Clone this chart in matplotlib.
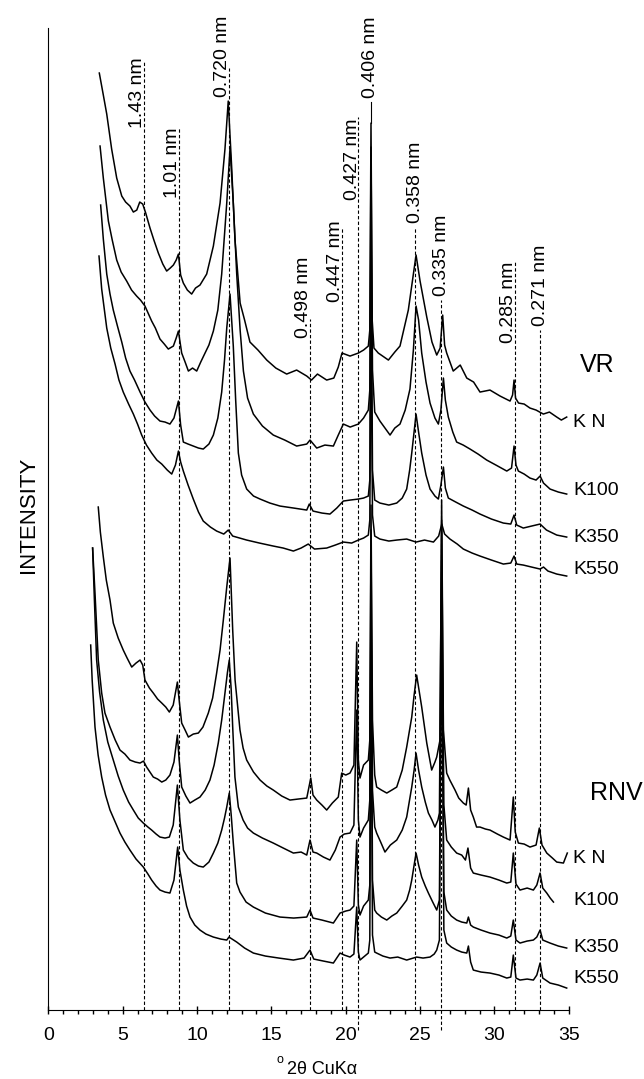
import numpy as np
from matplotlib import pyplot as plt

plt.rcParams['font.family'] = ['Liberation Sans', 'DejaVu Sans']

# XRD traces: (2theta, intensity in arbitrary units)
vr_kn = [(3.43, 937), (3.7, 915), (3.93, 896), (4.26, 861), (4.6, 832), (4.94, 814), (5.2, 808),
         (5.49, 804), (5.72, 798), (5.95, 800), (6.15, 808), (6.35, 806), (6.55, 797), (6.84, 782),
         (7.1, 770), (7.4, 757), (7.7, 746), (7.96, 739), (8.2, 742), (8.41, 745), (8.6, 750),
         (8.75, 756), (8.9, 735), (9.08, 727), (9.35, 720), (9.64, 716), (9.9, 722), (10.2, 725),
         (10.65, 736), (11.1, 764), (11.55, 807), (11.88, 861), (12.1, 909), (12.33, 843),
         (12.55, 771), (12.9, 707), (13.2, 690), (13.56, 668), (14.1, 660), (14.69, 650),
         (15.3, 642), (16.03, 636), (16.7, 640), (17.38, 634), (17.7, 630), (18.1, 636),
         (18.72, 630), (19.2, 632), (19.5, 643), (19.75, 657), (20.29, 654), (20.85, 657),
         (21.2, 660), (21.52, 664), (21.62, 680), (21.7, 887), (21.78, 690), (21.9, 662),
         (22.19, 657), (22.87, 650), (23.3, 658), (23.65, 664), (24.21, 700), (24.55, 736),
         (24.73, 755), (25.0, 729), (25.45, 693), (25.8, 668), (26.12, 655), (26.35, 662),
         (26.52, 695), (26.65, 665), (26.79, 657), (27.23, 639), (27.7, 645), (28.14, 632),
         (28.6, 628), (29.03, 618), (29.7, 620), (30.38, 614), (31.05, 609), (31.22, 615),
         (31.32, 630), (31.42, 612), (31.62, 607), (32.0, 606), (32.39, 602), (32.8, 600),
         (33.29, 596), (33.7, 598), (34.19, 593), (34.5, 590), (34.86, 593)]

vr_k100 = [(3.48, 864), (3.7, 832), (4.04, 789), (4.3, 770), (4.6, 750), (4.9, 738), (5.27, 729),
           (5.6, 720), (5.94, 714), (6.2, 710), (6.5, 704), (6.95, 689), (7.2, 682), (7.51, 671),
           (7.8, 666), (8.07, 661), (8.41, 664), (8.6, 672), (8.75, 679), (8.97, 657), (9.2, 648),
           (9.42, 639), (9.7, 642), (9.98, 639), (10.25, 648), (10.54, 657), (10.8, 665),
           (11.1, 679), (11.4, 700), (11.66, 736), (12.0, 807), (12.22, 862), (12.44, 807),
           (12.67, 736), (12.9, 680), (13.12, 639), (13.4, 612), (13.79, 596), (14.4, 584),
           (15.13, 575), (15.9, 570), (16.7, 564), (17.38, 566), (17.6, 570), (18.05, 562),
           (18.6, 565), (19.17, 564), (19.5, 575), (19.84, 586), (20.3, 583), (20.85, 586),
           (21.2, 592), (21.52, 600), (21.62, 620), (21.7, 863), (21.8, 640), (21.95, 598),
           (22.3, 589), (22.98, 575), (23.3, 582), (23.65, 586), (24.0, 600), (24.32, 621),
           (24.55, 660), (24.73, 704), (24.9, 690), (25.11, 657), (25.4, 628), (25.67, 607),
           (26.0, 592), (26.23, 586), (26.4, 600), (26.57, 632), (26.7, 610), (26.9, 593),
           (27.2, 578), (27.46, 568), (27.9, 565), (28.36, 561), (28.9, 556), (29.48, 550),
           (30.1, 545), (30.83, 539), (31.15, 542), (31.32, 564), (31.45, 545), (31.61, 539),
           (32.0, 536), (32.39, 532), (32.8, 530), (33.07, 534), (33.3, 527), (33.74, 521),
           (34.3, 518), (34.86, 516)]

vr_k350 = [(3.52, 805), (3.7, 771), (3.93, 736), (4.15, 716), (4.37, 700), (4.65, 684), (4.94, 668),
           (5.2, 652), (5.49, 639), (5.8, 630), (6.17, 618), (6.5, 608), (6.84, 600), (7.15, 594),
           (7.51, 589), (7.85, 588), (8.18, 586), (8.45, 592), (8.75, 609), (8.9, 585), (9.08, 568),
           (9.4, 566), (9.75, 564), (10.1, 562), (10.42, 561), (10.8, 566), (11.1, 575),
           (11.4, 592), (11.66, 618), (11.85, 650), (12.0, 682), (12.22, 716), (12.44, 664),
           (12.6, 610), (12.78, 557), (13.0, 535), (13.34, 521), (13.8, 514), (14.24, 511),
           (14.9, 507), (15.58, 504), (16.5, 502), (17.38, 500), (17.55, 506), (17.8, 499),
           (18.4, 497), (18.94, 496), (19.4, 502), (19.84, 509), (20.3, 510), (20.85, 511),
           (21.2, 512), (21.52, 514), (21.62, 530), (21.7, 800), (21.8, 540), (21.95, 510),
           (22.3, 507), (22.9, 505), (23.43, 507), (23.8, 512), (24.1, 521), (24.3, 540),
           (24.44, 557), (24.73, 596), (24.9, 578), (25.11, 557), (25.4, 535), (25.67, 521),
           (26.0, 514), (26.23, 511), (26.4, 525), (26.57, 543), (26.7, 522), (26.9, 512),
           (27.4, 508), (27.91, 504), (28.5, 500), (29.03, 496), (29.8, 491), (30.6, 487),
           (31.1, 486), (31.32, 495), (31.5, 485), (31.94, 482), (32.5, 484), (33.07, 486),
           (33.5, 480), (34.19, 475), (34.86, 473)]

vr_k550 = [(3.41, 754), (3.59, 721), (3.93, 682), (4.2, 662), (4.49, 646), (4.75, 630), (5.04, 618),
           (5.4, 606), (5.72, 596), (6.0, 586), (6.28, 575), (6.6, 565), (6.95, 557), (7.3, 550),
           (7.63, 546), (8.0, 540), (8.3, 536), (8.55, 545), (8.75, 559), (8.9, 548), (9.08, 539),
           (9.4, 525), (9.75, 511), (10.1, 498), (10.42, 489), (10.9, 483), (11.32, 479),
           (11.8, 476), (12.1, 480), (12.4, 474), (13.34, 470), (14.2, 467), (15.13, 464),
           (15.8, 462), (16.48, 459), (17.0, 462), (17.48, 466), (17.9, 461), (18.72, 462),
           (19.3, 465), (19.84, 468), (20.4, 467), (20.85, 470), (21.2, 472), (21.52, 475),
           (21.62, 490), (21.7, 700), (21.8, 495), (21.95, 474), (22.3, 471), (22.9, 469),
           (23.43, 470), (24.1, 471), (24.73, 468), (25.3, 470), (25.9, 468), (26.25, 474),
           (26.46, 486), (26.65, 476), (27.01, 471), (27.5, 466), (27.91, 461), (28.5, 457),
           (29.03, 454), (29.8, 450), (30.6, 446), (31.1, 447), (31.32, 454), (31.5, 446),
           (31.94, 445), (32.5, 443), (33.07, 441), (33.3, 443), (33.6, 439), (34.19, 436),
           (34.86, 434)]

rnv_kn = [(3.36, 503), (3.5, 478), (3.7, 453), (3.9, 430), (4.15, 410), (4.37, 387), (4.7, 372),
          (5.04, 360), (5.3, 352), (5.61, 343), (5.9, 347), (6.17, 350), (6.35, 345), (6.5, 330),
          (6.8, 322), (7.06, 317), (7.35, 311), (7.63, 307), (7.9, 303), (8.14, 298), (8.4, 305),
          (8.68, 328), (8.8, 310), (8.97, 287), (9.2, 280), (9.42, 273), (9.75, 276), (10.09, 277),
          (10.4, 283), (10.76, 297), (11.05, 312), (11.32, 337), (11.55, 360), (11.77, 390),
          (12.0, 423), (12.22, 452), (12.4, 380), (12.56, 330), (12.89, 280), (13.1, 262),
          (13.34, 250), (13.8, 238), (14.24, 230), (14.7, 224), (15.13, 220), (15.7, 214),
          (16.25, 210), (16.8, 211), (17.38, 212), (17.65, 232), (17.8, 215), (18.05, 210),
          (18.4, 205), (18.72, 200), (19.1, 207), (19.5, 213), (19.73, 237), (20.0, 235),
          (20.29, 237), (20.55, 245), (20.74, 368), (20.85, 250), (20.96, 232), (21.2, 245),
          (21.52, 250), (21.62, 270), (21.7, 505), (21.8, 290), (21.95, 235), (22.08, 223),
          (22.4, 220), (22.76, 217), (23.1, 220), (23.43, 223), (23.8, 240), (24.1, 263),
          (24.44, 293), (24.6, 315), (24.77, 335), (24.95, 318), (25.11, 303), (25.45, 267),
          (25.78, 240), (26.0, 248), (26.12, 253), (26.34, 270), (26.45, 510), (26.57, 280),
          (26.79, 237), (27.0, 230), (27.35, 220), (27.6, 212), (27.91, 207), (28.1, 205),
          (28.25, 222), (28.4, 200), (28.58, 193), (28.8, 183), (29.03, 183), (29.4, 181),
          (29.7, 180), (30.2, 176), (30.6, 173), (31.05, 170), (31.27, 213), (31.4, 178),
          (31.61, 167), (32.0, 166), (32.39, 163), (32.8, 165), (33.02, 182), (33.2, 165),
          (33.52, 157), (33.9, 152), (34.19, 148), (34.64, 147), (34.9, 157)]

rnv_k100 = [(2.98, 462), (3.14, 417), (3.36, 350), (3.59, 317), (3.81, 297), (4.15, 283), (4.5, 270),
            (4.82, 260), (5.15, 256), (5.49, 250), (5.85, 248), (6.17, 247), (6.4, 249), (6.61, 243),
            (7.06, 233), (7.35, 231), (7.63, 228), (7.9, 230), (8.18, 235), (8.45, 248), (8.68, 275),
            (8.8, 250), (8.97, 223), (9.25, 214), (9.53, 207), (9.85, 210), (10.2, 213),
            (10.55, 220), (10.87, 230), (11.15, 245), (11.43, 267), (11.66, 290), (11.88, 317),
            (12.05, 338), (12.17, 350), (12.3, 320), (12.4, 283), (12.55, 233), (12.78, 203),
            (13.1, 190), (13.4, 182), (13.79, 177), (14.4, 172), (15.13, 167), (15.8, 162),
            (16.48, 157), (17.0, 158), (17.38, 155), (17.6, 170), (17.8, 158), (18.05, 157),
            (18.5, 153), (18.94, 150), (19.3, 160), (19.62, 173), (19.9, 176), (20.29, 177),
            (20.55, 185), (20.74, 300), (20.85, 190), (20.96, 173), (21.2, 182), (21.52, 190),
            (21.62, 210), (21.7, 480), (21.8, 220), (21.95, 183), (22.08, 177), (22.35, 168),
            (22.64, 158), (23.0, 165), (23.43, 170), (23.8, 180), (24.1, 193), (24.44, 223),
            (24.6, 240), (24.73, 257), (24.9, 240), (25.11, 223), (25.35, 208), (25.56, 197),
            (25.8, 190), (26.0, 183), (26.2, 190), (26.3, 197), (26.45, 490), (26.6, 205),
            (26.79, 170), (27.1, 163), (27.46, 157), (27.8, 155), (28.05, 150), (28.22, 162),
            (28.4, 142), (28.58, 137), (29.1, 135), (29.7, 133), (30.3, 130), (30.83, 127),
            (31.1, 128), (31.27, 157), (31.45, 126), (31.72, 120), (32.2, 122), (32.62, 120),
            (32.85, 125), (33.07, 137), (33.25, 122), (33.52, 117), (33.75, 112), (33.97, 108)]

rnv_k350 = [(2.98, 462), (3.1, 410), (3.25, 350), (3.45, 318), (3.7, 290), (4.0, 268), (4.37, 250),
            (4.7, 234), (5.04, 220), (5.4, 208), (5.72, 200), (6.05, 192), (6.39, 187), (6.7, 183),
            (6.95, 180), (7.25, 176), (7.51, 173), (7.85, 172), (8.14, 173), (8.4, 185), (8.68, 225),
            (8.85, 190), (9.08, 160), (9.4, 152), (9.75, 147), (10.1, 144), (10.42, 143),
            (10.8, 148), (11.1, 157), (11.4, 167), (11.66, 180), (11.85, 192), (12.0, 203),
            (12.17, 217), (12.3, 195), (12.44, 167), (12.67, 127), (12.89, 118), (13.3, 108),
            (13.79, 103), (14.6, 97), (15.58, 93), (16.5, 92), (17.38, 93), (17.6, 100),
            (17.8, 92), (18.4, 90), (19.17, 87), (19.62, 97), (20.0, 99), (20.29, 100),
            (20.55, 104), (20.74, 170), (20.85, 105), (20.96, 95), (21.2, 104), (21.52, 110),
            (21.62, 125), (21.7, 430), (21.8, 130), (21.95, 100), (22.08, 97), (22.4, 93),
            (22.76, 90), (23.1, 94), (23.43, 97), (23.8, 104), (24.1, 110), (24.3, 120),
            (24.44, 130), (24.6, 145), (24.73, 157), (24.9, 145), (25.11, 133), (25.35, 124),
            (25.56, 117), (25.85, 108), (26.12, 100), (26.3, 110), (26.45, 450), (26.6, 118),
            (26.79, 100), (27.1, 94), (27.46, 90), (27.8, 88), (28.14, 87), (28.25, 93),
            (28.4, 85), (28.58, 83), (29.1, 80), (29.7, 77), (30.3, 75), (30.83, 72), (31.1, 74),
            (31.27, 90), (31.45, 70), (31.72, 67), (32.2, 69), (32.62, 70), (32.85, 73),
            (33.07, 80), (33.25, 70), (33.74, 67), (34.3, 64), (34.86, 62)]

rnv_k550 = [(2.85, 365), (2.95, 330), (3.14, 283), (3.35, 255), (3.59, 233), (3.85, 215), (4.15, 200),
            (4.5, 188), (4.82, 177), (5.15, 168), (5.49, 160), (5.9, 151), (6.39, 143), (6.7, 136),
            (6.95, 130), (7.25, 124), (7.51, 120), (7.85, 118), (8.18, 117), (8.45, 130), (8.7, 163),
            (8.85, 140), (9.08, 120), (9.3, 104), (9.53, 93), (9.85, 85), (10.2, 80), (10.6, 76),
            (11.1, 73), (11.6, 71), (12.0, 70), (12.15, 73), (12.67, 68), (13.2, 62), (13.79, 57),
            (14.6, 54), (15.5, 52), (16.48, 50), (17.2, 52), (17.6, 60), (17.85, 51), (18.5, 49),
            (19.17, 47), (19.62, 57), (19.9, 55), (20.29, 53), (20.55, 56), (20.74, 103),
            (20.85, 58), (20.96, 50), (21.2, 53), (21.52, 57), (21.62, 70), (21.7, 380), (21.8, 75),
            (21.95, 58), (22.08, 57), (22.5, 54), (22.98, 52), (23.5, 53), (24.1, 50), (24.77, 53),
            (25.2, 52), (25.67, 53), (25.95, 56), (26.12, 60), (26.3, 70), (26.45, 400), (26.6, 80),
            (26.79, 67), (27.1, 63), (27.46, 60), (27.8, 58), (28.14, 57), (28.25, 64), (28.4, 48),
            (28.58, 40), (29.1, 38), (29.7, 37), (30.3, 35), (30.83, 32), (31.1, 33), (31.27, 55),
            (31.45, 32), (31.72, 30), (32.2, 31), (32.62, 30), (32.85, 35), (33.07, 47), (33.25, 32),
            (33.74, 27), (34.3, 25), (34.86, 22)]

traces = [vr_kn, vr_k100, vr_k350, vr_k550, rnv_kn, rnv_k100, rnv_k350, rnv_k550]

# sample names at the right end of the traces: (name, intensity level)
vr_names = [("K N", 588), ("K100", 520), ("K350", 473), ("K550", 441)]
rnv_names = [("K N", 152), ("K100", 110), ("K350", 63), ("K550", 32)]

# d-spacing reference lines: label, 2theta, top of line, bottom of label, label alignment
d_lines = [("1.43 nm", 6.41, 950, 882, "right"),
           ("1.01 nm", 8.77, 882, 812, "right"),
           ("0.720 nm", 12.15, 942, 913, "right"),
           ("0.498 nm", 17.57, 691, 672, "right"),
           ("0.447 nm", 19.73, 783, 708, "right"),
           ("0.427 nm", 20.85, 893, 810, "right"),
           ("0.358 nm", 24.68, 783, 787, "center"),
           ("0.335 nm", 26.43, 710, 714, "center"),
           ("0.285 nm", 31.35, 748, 667, "right"),
           ("0.271 nm", 33.08, 680, 684, "center")]
d_406 = ("0.406 nm", 21.7, 887, 912)
below_axis = [20.85, 26.43]

fig = plt.figure(figsize=(6.44, 10.79), dpi=100)
ax = fig.add_axes([0.075, 0.0639, 0.8082, 0.9101])

# dashed reference lines
for label, x, top, bottom, align in d_lines:
    y0 = -20 if x in below_axis else 0
    ax.plot([x, x], [y0, top], color="black", lw=0.8, ls=(0, (3, 2)), clip_on=False)
    if align == "right":
        ax.text(x + 0.15, bottom, label, rotation=90, ha="right", va="bottom", fontsize=14)
    else:
        ax.text(x, bottom, label, rotation=90, ha="center", va="bottom", fontsize=14)

label, x, tip, bottom = d_406
ax.plot([x, x], [tip, bottom - 4], color="black", lw=0.8)
ax.text(x, bottom, label, rotation=90, ha="center", va="bottom", fontsize=14)

# the traces
for tr in traces:
    arr = np.array(tr)
    ax.plot(arr[:, 0], arr[:, 1], color="black", lw=1.1)

for name, y in vr_names + rnv_names:
    ax.text(35.3, y, name, ha="left", va="center", fontsize=14)
ax.text(36.9, 645, "VR", ha="center", va="center", fontsize=18)
ax.text(38.2, 217, "RNV", ha="center", va="center", fontsize=18)

ax.set_xlim(0, 35)
ax.set_ylim(0, 982)
ax.set_xticks(np.arange(0, 36, 5))
ax.set_xticks(np.arange(0, 36, 1), minor=True)
ax.set_yticks([])
ax.tick_params(axis="x", which="major", direction="inout", length=6, width=1, labelsize=14, pad=9)
ax.tick_params(axis="x", which="minor", direction="out", length=3, width=1)
ax.spines["top"].set_visible(False)
ax.spines["right"].set_visible(False)

fig.text(28 / 644, 1 - 515 / 1079, "INTENSITY", rotation=90, ha="center", va="center", fontsize=16)
fig.text(280 / 644, 1 - 1060 / 1079, "o", ha="center", va="center", fontsize=9)
fig.text(287 / 644, 1 - 1069 / 1079, "2θ CuKα", ha="left", va="center", fontsize=13)

fig.savefig("out.png", dpi=100)
